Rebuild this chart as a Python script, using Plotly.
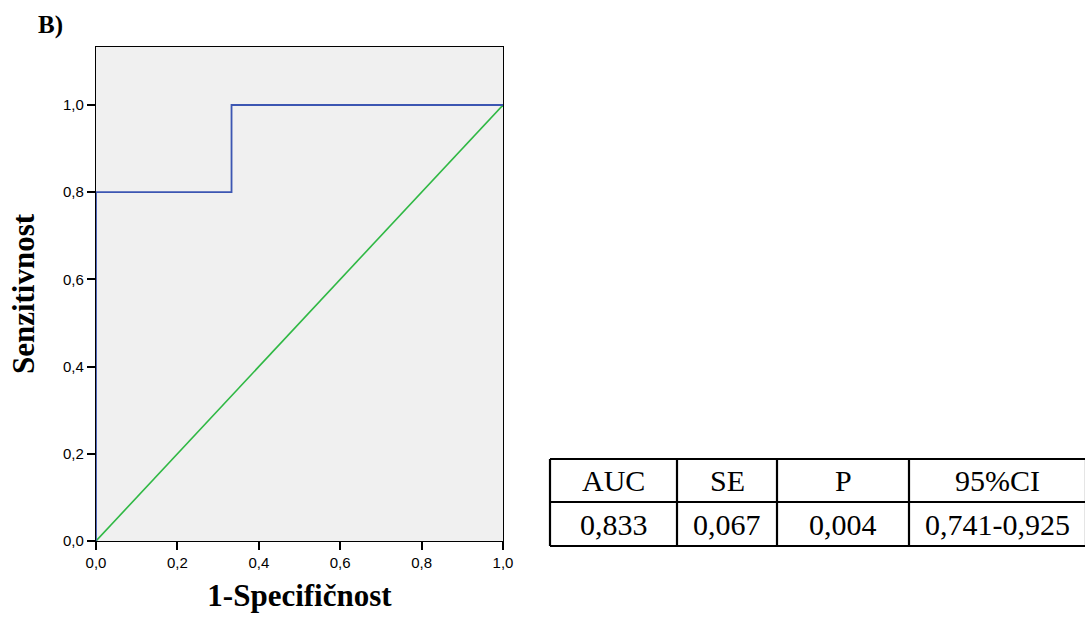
import plotly.graph_objects as go

# ROC curve coordinates (1 - specificity, sensitivity)
roc_fpr = [0.0, 0.0, 0.333, 0.333, 1.0]
roc_tpr = [0.0, 0.8, 0.8, 1.0, 1.0]

# Reference (chance) line
ref_x = [0.0, 1.0]
ref_y = [0.0, 1.0]

# Summary statistics table
table_header = ["AUC", "SE", "P", "95%CI"]
table_values = ["0,833", "0,067", "0,004", "0,741-0,925"]

W, H = 1085, 619
SERIF = "Liberation Serif, Times New Roman, serif"

fig = go.Figure()
fig.add_trace(go.Scatter(x=ref_x, y=ref_y, mode="lines",
                         line=dict(color="#2fb844", width=1.6),
                         hoverinfo="skip", showlegend=False, cliponaxis=False))
fig.add_trace(go.Scatter(x=roc_fpr, y=roc_tpr, mode="lines",
                         line=dict(color="#3c56b2", width=1.8),
                         showlegend=False, cliponaxis=False))

axis_common = dict(
    showgrid=False, zeroline=False, showline=True, mirror=True,
    linecolor="black", linewidth=1.2, ticks="outside", ticklen=8,
    tickwidth=1.6, tickcolor="black", tickformat=".1f",
    tickfont=dict(family="Liberation Sans, Arial", size=15, color="black"),
)

fig.update_layout(
    width=W, height=H,
    margin=dict(l=96, r=W - 503, t=47, b=H - 541),
    paper_bgcolor="white", plot_bgcolor="#f0f0f0",
    separators=",.",
    xaxis=dict(range=[0, 1], tickvals=[0, 0.2, 0.4, 0.6, 0.8, 1.0],
               title=dict(text="<b>1-Specifičnost</b>", standoff=14,
                          font=dict(family=SERIF, size=31, color="black")),
               **axis_common),
    yaxis=dict(range=[0, 1.133], tickvals=[0, 0.2, 0.4, 0.6, 0.8, 1.0],
               title=dict(text="<b>Senzitivnost</b>", standoff=19,
                          font=dict(family=SERIF, size=31, color="black")),
               **axis_common),
)

# Panel label
fig.add_annotation(text="<b>B)</b>", xref="paper", yref="paper",
                   x=(36 - 96) / 407, y=1 + (47 - 25) / 494,
                   xanchor="left", yanchor="middle", showarrow=False,
                   font=dict(family=SERIF, size=25, color="black"))

# Table drawn in pixel space, converted to paper coordinates
pl, pr, pt, pb = 96, 503, 47, 541


def px_x(p):
    return (p - pl) / (pr - pl)


def px_y(p):
    return (pb - p) / (pb - pt)


col_edges = [550, 677, 777, 909, 1086]
row_edges = [459, 502, 546]

for x in col_edges:
    fig.add_shape(type="line", xref="paper", yref="paper",
                  x0=px_x(x), x1=px_x(x), y0=px_y(row_edges[0]), y1=px_y(row_edges[-1]),
                  line=dict(color="black", width=2.2))
for y in row_edges:
    fig.add_shape(type="line", xref="paper", yref="paper",
                  x0=px_x(col_edges[0]), x1=px_x(col_edges[-1]), y0=px_y(y), y1=px_y(y),
                  line=dict(color="black", width=2.2))

for row_i, row in enumerate([table_header, table_values]):
    yc = (row_edges[row_i] + row_edges[row_i + 1]) / 2
    for col_i, txt in enumerate(row):
        xc = (col_edges[col_i] + col_edges[col_i + 1]) / 2
        fig.add_annotation(text=txt, xref="paper", yref="paper",
                           x=px_x(xc), y=px_y(yc), xanchor="center", yanchor="middle",
                           showarrow=False,
                           font=dict(family=SERIF, size=30, color="black"))

fig.write_html("out.html")
